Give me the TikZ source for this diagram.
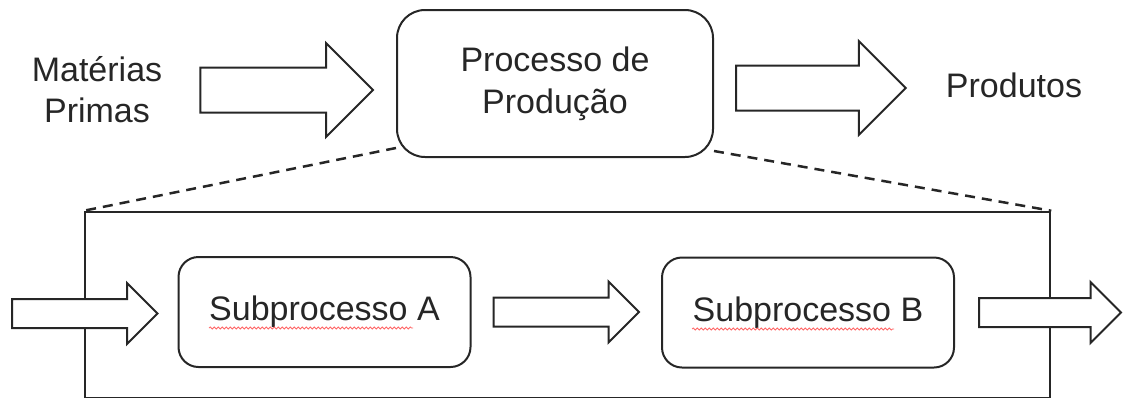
\documentclass[tikz,border=0pt]{standalone}
\usepackage{fontspec}
\setmainfont{Liberation Sans}
\usepackage{tikz}
\usetikzlibrary{positioning, shapes, calc, decorations.pathmorphing}
\newcommand{\fatarrow}[4]{%
  \draw[fat] let \p1=#1, \p2=#2 in
    (\x1,\y1+#3) -- (\x2-#4,\y1+#3) -- (\x2-#4,\y1+#4) -- (\x2,\y1)
    -- (\x2-#4,\y1-#4) -- (\x2-#4,\y1-#3) -- (\x1,\y1-#3) -- cycle;}

\begin{document}
\begin{tikzpicture}[x=1pt, y=-1pt,
    every node/.style={font=\fontsize{34}{41}\selectfont, text=black!85},
    label/.style={align=center, inner sep=0pt},
    box/.style={rectangle, rounded corners=20pt, draw=black!85, line width=2pt, minimum width=292pt, minimum height=110pt, align=center},
    frame/.style={rectangle, draw=black!85, line width=2.5pt, minimum width=965pt, minimum height=186pt, inner sep=0pt},
    fat/.style={draw=black!85, fill=white, line width=2pt},
    zoomline/.style={draw=black!85, line width=2.5pt, dash pattern=on 10pt off 7pt},
    spell/.style={draw=red!60, line width=0.8pt, decorate, decoration={snake, amplitude=1pt, segment length=4pt}}
]
    \useasboundingbox (0,0) rectangle (1123,397);

    % top row
    \node[label] (mp) at (97,90) {Matérias\\Primas};
    \node[box, rounded corners=28pt, minimum width=316pt, minimum height=147pt, font=\fontsize{34}{42}\selectfont] (proc) at (555,83.5) {Processo de\\Produção};
    \node[label] (prod) at (1014,85) {Produtos};

    % zoomed part
    \node[frame] (zoom) at (567.5,305) {};
    \node[box] (subA) at (324.5,312) {Subprocesso A};
    \node[box] (subB) at (808,312.5) {Subprocesso B};
    \coordinate (in) at (12,313.5);
    \coordinate (out) at (1121,312);

    \draw[zoomline] ([yshift=10pt]proc.south west) -- (zoom.north west);
    \draw[zoomline] ([yshift=7pt]proc.south east) -- (zoom.north east);

    \fatarrow{([xshift=38pt]mp.east)}{([xshift=-23pt]proc.west)}{22.5pt}{47pt}
    \fatarrow{([xshift=22pt,yshift=-4.5pt]proc.east)}{([xshift=-40pt]prod.west)}{22.5pt}{47pt}
    \fatarrow{(in)}{([xshift=-20pt]subA.west)}{14.5pt}{30.5pt}
    \fatarrow{([xshift=22pt]subA.east)}{([xshift=-22pt]subB.west)}{14.5pt}{30.5pt}
    \fatarrow{([xshift=24pt]subB.east)}{(out)}{14.5pt}{30.5pt}

    \draw[spell] (209,328) -- (413,328);
    \draw[spell] (692,329) -- (894,329);
\end{tikzpicture}
\end{document}
